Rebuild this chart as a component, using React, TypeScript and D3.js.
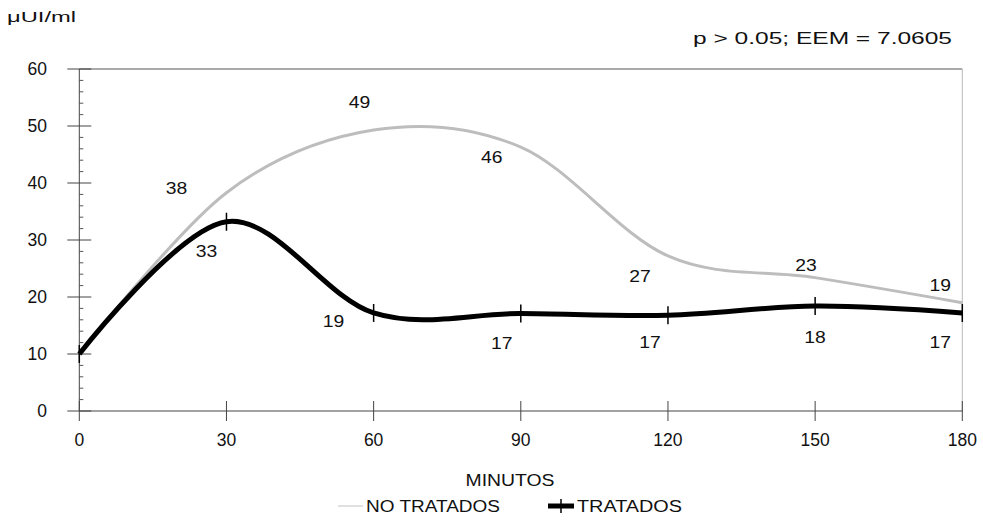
import React from "react";
import * as d3 from "d3";

const minutes = [0, 30, 60, 90, 120, 150, 180];
const noTratados = [10, 38.3, 49.3, 46.3, 27.2, 23.4, 19];
const tratados = [10, 33.2, 17.2, 17.1, 16.8, 18.4, 17.2];
const noTratadosLabels = ["", "38", "49", "46", "27", "23", "19"];
const tratadosLabels = ["", "33", "19", "17", "17", "18", "17"];
const yTicks = [0, 10, 20, 30, 40, 50, 60];
const xTicks = [0, 30, 60, 90, 120, 150, 180];

// label placement offsets (pixels) relative to each point
const noTratadosLabelOffsets: [number, number][] = [[0, 0], [-50, -4], [-14, -28], [-29, 10], [-28, 20], [-9, -12], [-22, -17]];
const tratadosLabelOffsets: [number, number][] = [[0, 0], [-20, 30], [-40, 8], [-19, 29.5], [-18, 27], [0, 31], [-22, 29]];

const W = 983;
const H = 527;
const FONT = "'Liberation Sans', Arial, Helvetica, sans-serif";

export default function App() {
  const x = d3.scaleLinear().domain([0, 180]).range([79.3, 962.3]);
  const y = d3.scaleLinear().domain([0, 60]).range([411, 69]);
  const line = d3
    .line<number>()
    .x((_, i) => x(minutes[i]))
    .y((d) => y(d))
    .curve(d3.curveCardinal.tension(0));

  const minor = d3.range(0, 61, 2).filter((v) => v % 10 !== 0);

  return (
    <svg width={W} height={H} style={{ position: "absolute", left: 0, top: 0, background: "#fff" }} fontFamily={FONT}>
      <rect width={W} height={H} fill="#fff" />
      {/* units */}
      <text x={7} y={22} fontSize={14} textLength={69} lengthAdjust="spacingAndGlyphs" fill="#111">μUI/ml</text>
      <text x={693} y={44} fontSize={17} textLength={259} lengthAdjust="spacingAndGlyphs" fill="#111">p &gt; 0.05; EEM = 7.0605</text>

      {/* frame */}
      <line x1={x(0)} x2={x(180)} y1={y(60)} y2={y(60)} stroke="#555" strokeWidth={1} />
      <line x1={x(180)} x2={x(180)} y1={y(60)} y2={y(0)} stroke="#bbb" strokeWidth={1} />
      <line x1={x(0)} x2={x(180)} y1={y(0)} y2={y(0)} stroke="#444" strokeWidth={1} />
      <line x1={x(0)} x2={x(0)} y1={y(60)} y2={y(0)} stroke="#444" strokeWidth={1} />

      {/* y ticks */}
      {yTicks.map((t) => (
        <g key={"y" + t}>
          <line x1={x(0) - 12} x2={x(0) + 12} y1={y(t)} y2={y(t)} stroke="#444" strokeWidth={1} />
          <text x={47} y={y(t)} dy="0.35em" fontSize={17.5} textAnchor="end" fill="#111">{t}</text>
        </g>
      ))}
      {minor.map((t) => (
        <line key={"m" + t} x1={x(0)} x2={x(0) + 4} y1={y(t)} y2={y(t)} stroke="#555" strokeWidth={1} />
      ))}

      {/* x ticks */}
      {xTicks.map((t) => (
        <g key={"x" + t}>
          <line x1={x(t)} x2={x(t)} y1={y(0) - 10} y2={y(0) + 10} stroke="#444" strokeWidth={1} />
          <text x={x(t)} y={446} fontSize={17.5} textAnchor="middle" fill="#111">{t}</text>
        </g>
      ))}

      {/* series */}
      <path d={line(noTratados) || ""} fill="none" stroke="#bdbdbd" strokeWidth={3} />
      <path d={line(tratados) || ""} fill="none" stroke="#000" strokeWidth={5} />
      {tratados.map((v, i) => (
        <line key={"mk" + i} x1={x(minutes[i])} x2={x(minutes[i])} y1={y(v) - 9} y2={y(v) + 9} stroke="#000" strokeWidth={1.5} />
      ))}

      {/* data labels */}
      {noTratados.map((v, i) =>
        noTratadosLabels[i] ? (
          <text key={"ln" + i} x={x(minutes[i]) + noTratadosLabelOffsets[i][0]} y={y(v) + noTratadosLabelOffsets[i][1]} dy="0.35em"
            fontSize={16} textAnchor="middle" textLength={21.5} lengthAdjust="spacingAndGlyphs" fill="#111">{noTratadosLabels[i]}</text>
        ) : null
      )}
      {tratados.map((v, i) =>
        tratadosLabels[i] ? (
          <text key={"lt" + i} x={x(minutes[i]) + tratadosLabelOffsets[i][0]} y={y(v) + tratadosLabelOffsets[i][1]} dy="0.35em"
            fontSize={16} textAnchor="middle" textLength={21.5} lengthAdjust="spacingAndGlyphs" fill="#111">{tratadosLabels[i]}</text>
        ) : null
      )}

      {/* axis title */}
      <text x={510} y={486} fontSize={16} textAnchor="middle" textLength={89} lengthAdjust="spacingAndGlyphs" fill="#111">MINUTOS</text>

      {/* legend */}
      <line x1={338} x2={363} y1={506} y2={506} stroke="#e0e0e0" strokeWidth={2} />
      <text x={366} y={512} fontSize={16} textLength={134} lengthAdjust="spacingAndGlyphs" fill="#111">NO TRATADOS</text>
      <line x1={548} x2={574} y1={506} y2={506} stroke="#000" strokeWidth={5} />
      <line x1={561} x2={561} y1={499} y2={513} stroke="#000" strokeWidth={1.5} />
      <text x={577} y={512} fontSize={16} textLength={105} lengthAdjust="spacingAndGlyphs" fill="#111">TRATADOS</text>
    </svg>
  );
}
